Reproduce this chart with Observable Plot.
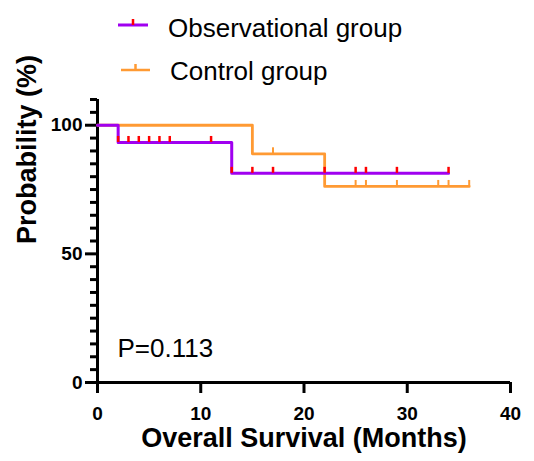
<!DOCTYPE html>
<html>
<head>
<meta charset="utf-8">
<script src="https://cdn.jsdelivr.net/npm/d3@7"></script>
<script src="https://cdn.jsdelivr.net/npm/@observablehq/plot@0.6"></script>
<style>
  html, body { margin: 0; padding: 0; background: #fff; }
  #wrap { position: relative; width: 534px; height: 461px; font-family: "Liberation Sans", Arial, sans-serif; }
  #legend { position: absolute; left: 0; top: 0; }
</style>
</head>
<body>
<div id="wrap"><svg id="legend" width="534" height="95"></svg></div>
<script>
// ---- data ----
const seriesNames = ["Observational group", "Control group"];
const seriesColors = ["#a000f0", "#ff9a33"];
const censorColors = ["#ff0000", "#ff9a33"];

// step points (months, survival %)
const obsTime = [0, 2, 13, 34];
const obsSurv = [100, 93.3, 81.3, 81.3];
const ctlTime = [0, 15, 22, 36];
const ctlSurv = [100, 88.9, 76.2, 76.2];

// censored observations
const obsCensorTime = [2, 3, 4, 5, 6, 7, 11, 13, 15, 17, 22, 25, 26, 29, 34];
const obsCensorSurv = [93.3, 93.3, 93.3, 93.3, 93.3, 93.3, 93.3, 81.3, 81.3, 81.3, 81.3, 81.3, 81.3, 81.3, 81.3];
const ctlCensorTime = [17, 25, 26, 29, 33, 34, 36];
const ctlCensorSurv = [88.9, 76.2, 76.2, 76.2, 76.2, 76.2, 76.2];

const xTicks = [0, 10, 20, 30, 40];
const yTicks = [0, 50, 100];
const yMinorTicks = [5, 10, 15, 20, 25, 30, 35, 40, 45, 55, 60, 65, 70, 75, 80, 85, 90, 95, 105, 110];
const pValueText = "P=0.113";
const xLabel = "Overall Survival (Months)";
const yLabel = "Probability (%)";

// ---- build tables ----
const obsLine = obsTime.map((t, i) => ({t, s: obsSurv[i]}));
const ctlLine = ctlTime.map((t, i) => ({t, s: ctlSurv[i]}));
const obsCens = obsCensorTime.map((t, i) => ({t, s: obsCensorSurv[i]}));
const ctlCens = ctlCensorTime.map((t, i) => ({t, s: ctlCensorSurv[i]}));
const xMin = xTicks[0], xMax = xTicks[xTicks.length - 1];
const yMin = yTicks[0], yMax = yMinorTicks[yMinorTicks.length - 1];

// plot geometry
const W = 534, H = 461, mL = 97, mR = 24, mT = 99, mB = 79;
const pxPerX = (W - mL - mR) / (xMax - xMin);
const pxPerY = (H - mT - mB) / (yMax - yMin);
const xu = px => px / pxPerX;   // pixels -> x data units
const yu = px => px / pxPerY;   // pixels -> y data units

const font = "Liberation Sans, Arial, sans-serif";

const chart = Plot.plot({
  width: W,
  height: H,
  marginLeft: mL,
  marginRight: mR,
  marginTop: mT,
  marginBottom: mB,
  style: { fontFamily: font, background: "transparent", color: "#000", overflow: "visible" },
  x: { domain: [xMin, xMax], axis: null },
  y: { domain: [yMin, yMax], axis: null },
  marks: [
    // y axis: minor + major ticks and labels
    Plot.ruleY(yMinorTicks, { y: d => d, x1: xMin - xu(7), x2: xMin, stroke: "#000", strokeWidth: 3 }),
    Plot.ruleY(yTicks, { y: d => d, x1: xMin - xu(12), x2: xMin, stroke: "#000", strokeWidth: 3 }),
    Plot.text(yTicks, { y: d => d, text: d => String(d), frameAnchor: "left", dx: -15, textAnchor: "end", lineAnchor: "middle", fontSize: 19, fontWeight: "bold", fill: "#000" }),
    // x axis ticks and labels
    Plot.ruleX(xTicks, { x: d => d, y1: yMin - yu(11), y2: yMin, stroke: "#000", strokeWidth: 3 }),
    Plot.text(xTicks, { x: d => d, text: d => String(d), frameAnchor: "bottom", dy: 24, lineAnchor: "top", fontSize: 19, fontWeight: "bold", fill: "#000" }),
    // axis lines
    Plot.ruleX([xMin], { y1: yMin, y2: yMax, strokeWidth: 3, stroke: "#000" }),
    Plot.ruleY([yMin], { x1: xMin, x2: xMax, strokeWidth: 3, stroke: "#000" }),
    // control group
    Plot.line(ctlLine, { x: "t", y: "s", curve: "step-after", stroke: seriesColors[1], strokeWidth: 2.8 }),
    Plot.ruleX(ctlCens, { x: "t", y1: "s", y2: d => d.s + yu(6), stroke: censorColors[1], strokeWidth: 2 }),
    // observational group
    Plot.line(obsLine, { x: "t", y: "s", curve: "step-after", stroke: seriesColors[0], strokeWidth: 3 }),
    Plot.ruleX(obsCens, { x: "t", y1: "s", y2: d => d.s + yu(6), stroke: censorColors[0], strokeWidth: 2.5 }),
    // texts
    Plot.text([pValueText], { frameAnchor: "bottom-left", text: d => d, dx: 20, dy: -26, lineAnchor: "bottom", textAnchor: "start", fontSize: 26, fontWeight: "normal", fill: "#000" }),
    Plot.text([xLabel], { frameAnchor: "bottom", text: d => d, dy: 64, fontSize: 27, fontWeight: "bold", fill: "#000" }),
    Plot.text([yLabel], { frameAnchor: "left", text: d => d, dx: -70, dy: 3, rotate: -90, fontSize: 27, fontWeight: "bold", fill: "#000" })
  ]
});
document.getElementById("wrap").appendChild(chart);
chart.style.position = "absolute";
chart.style.left = "0";
chart.style.top = "0";

// ---- legend ----
const leg = d3.select("#legend").style("z-index", 2);
const legItems = [
  { name: seriesNames[0], color: seriesColors[0], tick: censorColors[0], x0: 118, x1: 148, y: 25, tx: 168, ty: 37, w: 3 },
  { name: seriesNames[1], color: seriesColors[1], tick: censorColors[1], x0: 121, x1: 150, y: 70, tx: 170, ty: 80, w: 2.5 }
];
for (const it of legItems) {
  leg.append("line").attr("x1", it.x0).attr("x2", it.x1).attr("y1", it.y).attr("y2", it.y)
    .attr("stroke", it.color).attr("stroke-width", it.w);
  const mx = (it.x0 + it.x1) / 2;
  leg.append("line").attr("x1", mx).attr("x2", mx).attr("y1", it.y).attr("y2", it.y - 6)
    .attr("stroke", it.tick).attr("stroke-width", 2.5);
  leg.append("text").attr("x", it.tx).attr("y", it.ty).text(it.name)
    .attr("font-family", font).attr("font-size", 26).attr("fill", "#000");
}
</script>
</body>
</html>
